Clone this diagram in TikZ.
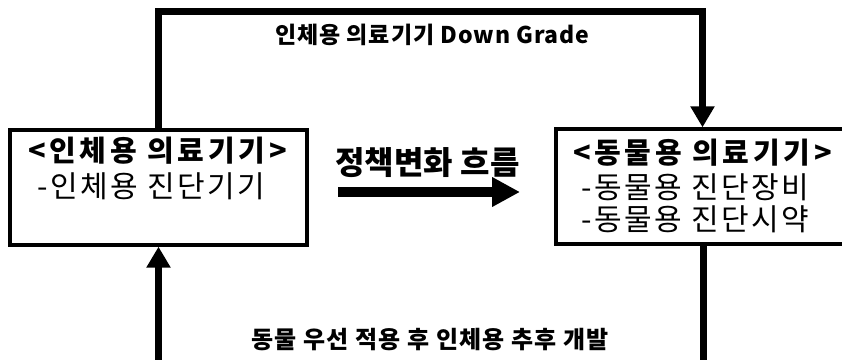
\documentclass[tikz,border=0pt]{standalone}
\usepackage{fontspec}
\newfontfamily\kr{Noto Sans CJK KR}
\usetikzlibrary{arrows.meta}
\begin{document}
\begin{tikzpicture}[x=1pt,y=-1pt,
  box/.style={draw, line width=3.3pt, inner sep=0pt, fill=white},
  conn/.style={line width=7.5pt, line join=miter, line cap=butt},
  tip/.style={-{Triangle[width=23pt,length=21pt]}},
  midarrow/.style={line width=10pt, -{Triangle[width=28pt,length=28pt]}},
  ttl/.style={inner sep=0pt, anchor=base, font={\kr\bfseries\fontsize{29pt}{30pt}\selectfont\addfontfeatures{LetterSpace=13}}},
  itm/.style={inner sep=0pt, anchor=base, font={\kr\fontsize{30pt}{30pt}\selectfont\addfontfeatures{LetterSpace=8}}},
  lbl/.style={inner sep=0pt, anchor=base, font={\kr\bfseries\fontsize{23pt}{25pt}\selectfont\addfontfeatures{LetterSpace=4}}},
  botlbl/.style={inner sep=0pt, anchor=base, font={\kr\bfseries\fontsize{24pt}{25pt}\selectfont\addfontfeatures{LetterSpace=5}}},
  midlbl/.style={inner sep=0pt, anchor=base, font={\kr\bfseries\fontsize{32pt}{35pt}\selectfont}}
]
\path[use as bounding box, clip] (0,0) rectangle (842,359);
\fill[white] (0,0) rectangle (842,359);

% boxes
\node[box, minimum width=297pt, minimum height=115pt] (L) at (158.5,187.5) {};
\node[box, minimum width=300pt, minimum height=115pt] (R) at (706,186.5) {};

% box texts
\node[ttl] (Lt) at (157.5,161) {<인체용 의료기기>};
\node[itm] (L1) at (151.5,197) {-인체용 진단기기};
\node[ttl] (Rt) at (702.5,163) {<동물용 의료기기>};
\node[itm] (R1) at (695.5,198) {-동물용 진단장비};
\node[itm] (R2) at (695.5,230) {-동물용 진단시약};

% corner coordinates
\coordinate (tl) at (158.5,11.5);
\coordinate (tr) at (702.5,11.5);
\coordinate (bl) at (158.5,366);
\coordinate (br) at (703.5,366);

% top connector
\draw[conn, tip] (L.north -| tl) -- (tl) -- (tr) -- (R.north -| tr);
\node[lbl] (top) at (432.5,43) {인체용 의료기기 Down Grade};

% bottom connectors
\draw[conn] (R.south -| br) -- (br);
\draw[conn, tip] (bl) -- (L.south -| bl);
\node[botlbl] (bot) at (430,348) {동물 우선 적용 후 인체용 추후 개발};

% middle arrow
\coordinate (m1) at (338,192);
\coordinate (m2) at (520,192);
\draw[midarrow] (m1) -- (m2);
\node[midlbl] (mid) at (427.5,174) {정책변화 흐름};
\end{tikzpicture}
\end{document}
